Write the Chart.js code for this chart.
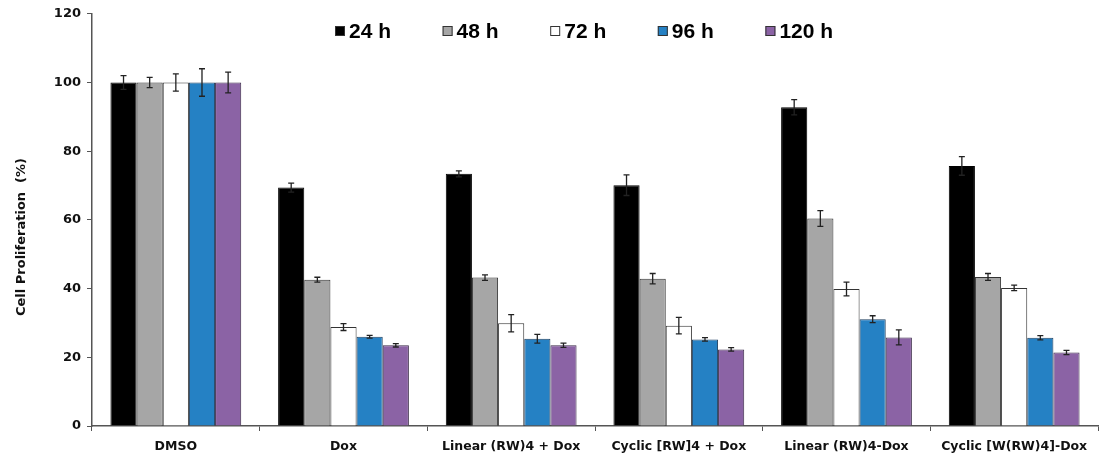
<!DOCTYPE html>
<html>
<head>
<meta charset="utf-8">
<script src="https://cdn.jsdelivr.net/npm/chart.js@4/dist/chart.umd.min.js"></script>
<style>
  html, body { margin: 0; padding: 0; background: #fff; }
  #wrap { width: 1107px; height: 466px; position: relative; }
</style>
</head>
<body>
<div id="wrap"><canvas id="c"></canvas></div>
<script>
// Treatment groups along the x axis
const categories = ['DMSO', 'Dox', 'Linear (RW)4 + Dox', 'Cyclic [RW]4 + Dox', 'Linear (RW)4-Dox', 'Cyclic [W(RW)4]-Dox'];
const seriesLabels = ['24 h', '48 h', '72 h', '96 h', '120 h'];

// Cell proliferation (%) per time point
const h24  = [100, 69.4, 73.4, 70.1, 92.8, 75.7];
const h48  = [100, 42.6, 43.2, 42.9, 60.4, 43.4];
const h72  = [100, 28.8, 29.9, 29.2, 39.9, 40.2];
const h96  = [100, 26.0, 25.4, 25.2, 31.1, 25.7];
const h120 = [100, 23.5, 23.5, 22.3, 25.8, 21.4];

// Standard deviations
const e24  = [2.0, 1.3, 0.9, 3.0, 2.2, 2.7];
const e48  = [1.5, 0.7, 0.8, 1.5, 2.3, 1.0];
const e72  = [2.5, 1.0, 2.5, 2.4, 2.0, 0.8];
const e96  = [4.0, 0.4, 1.3, 0.5, 1.0, 0.6];
const e120 = [3.0, 0.5, 0.6, 0.5, 2.2, 0.6];

const yTicks = [0, 20, 40, 60, 80, 100, 120];
const yTitle = 'Cell Proliferation  (%)';

const fills   = ['#000000', '#a6a6a6', '#ffffff', '#2581c4', '#8b63a5'];
const borders = ['#000000', '#333333', '#333333', '#1f3f5f', '#3a2a48'];
const values  = [h24, h48, h72, h96, h120];
const errors  = [e24, e48, e72, e96, e120];

// Draws ± SD whiskers on top of each bar
const errorBars = {
  id: 'errorBars',
  afterDatasetsDraw(chart) {
    const ctx = chart.ctx;
    const y = chart.scales.y;
    ctx.save();
    ctx.strokeStyle = '#222';
    ctx.lineWidth = 1.3;
    chart.data.datasets.forEach((ds, i) => {
      const meta = chart.getDatasetMeta(i);
      meta.data.forEach((bar, j) => {
        const v = ds.data[j], e = ds.errors[j];
        const top = y.getPixelForValue(v + e);
        const bot = y.getPixelForValue(v - e);
        const x = bar.x;
        ctx.beginPath();
        ctx.moveTo(x, top); ctx.lineTo(x, bot);
        ctx.moveTo(x - 3, top); ctx.lineTo(x + 3, top);
        ctx.moveTo(x - 3, bot); ctx.lineTo(x + 3, bot);
        ctx.stroke();
      });
    });
    ctx.restore();
  }
};

// Horizontal legend across the top of the plot, plus the rotated y title
const decorations = {
  id: 'decorations',
  afterDraw(chart) {
    const ctx = chart.ctx;
    ctx.save();
    const x0 = 335, step = 107.6, cy = 31;
    ctx.font = 'bold 21px "Liberation Sans", Arial, sans-serif';
    ctx.textBaseline = 'middle';
    ctx.textAlign = 'left';
    chart.data.datasets.forEach((ds, i) => {
      const x = x0 + i * step;
      ctx.fillStyle = ds.backgroundColor;
      ctx.fillRect(x, cy - 5, 10, 10);
      ctx.strokeStyle = '#333';
      ctx.lineWidth = 1;
      ctx.strokeRect(x + 0.5, cy - 4.5, 9, 9);
      ctx.fillStyle = '#000';
      ctx.fillText(ds.label, x + 14, cy + 1);
    });
    ctx.restore();

    ctx.save();
    ctx.translate(22, 237);
    ctx.rotate(-Math.PI / 2);
    ctx.font = 'bold 13px "DejaVu Sans", sans-serif';
    ctx.fillStyle = '#111';
    ctx.textAlign = 'center';
    ctx.textBaseline = 'middle';
    ctx.fillText(yTitle, 0, 0);
    ctx.restore();
  }
};

const datasets = seriesLabels.map((lab, i) => ({
  label: lab,
  data: values[i],
  errors: errors[i],
  backgroundColor: fills[i],
  borderColor: borders[i],
  borderWidth: 1,
  barPercentage: 1.0,
  categoryPercentage: 0.78
}));

new Chart(document.getElementById('c'), {
  type: 'bar',
  data: { labels: categories, datasets },
  plugins: [errorBars, decorations],
  options: {
    responsive: true,
    maintainAspectRatio: false,
    animation: false,
    layout: { padding: { top: 13, right: 9, left: 0, bottom: 0 } },
    plugins: { legend: { display: false }, tooltip: { enabled: false } },
    scales: {
      x: {
        afterFit(s) { s.height = 40; },
        grid: { display: true, drawOnChartArea: false, offset: true, tickLength: 5, color: '#555' },
        border: { color: '#555', width: 1.5 },
        ticks: {
          color: '#111',
          padding: 8,
          maxRotation: 0,
          autoSkip: false,
          font: { family: '"DejaVu Sans", sans-serif', weight: 'bold', size: 12.5 }
        }
      },
      y: {
        min: 0, max: 120,
        afterFit(s) { s.width = 92; },
        afterBuildTicks(s) { s.ticks = yTicks.map(v => ({ value: v })); },
        grid: { display: true, drawOnChartArea: false, tickLength: 5, color: '#555' },
        border: { color: '#555', width: 1.5 },
        ticks: {
          color: '#111',
          padding: 6,
          font: { family: '"DejaVu Sans", sans-serif', weight: 'bold', size: 13 }
        }
      }
    }
  }
});
</script>
</body>
</html>
